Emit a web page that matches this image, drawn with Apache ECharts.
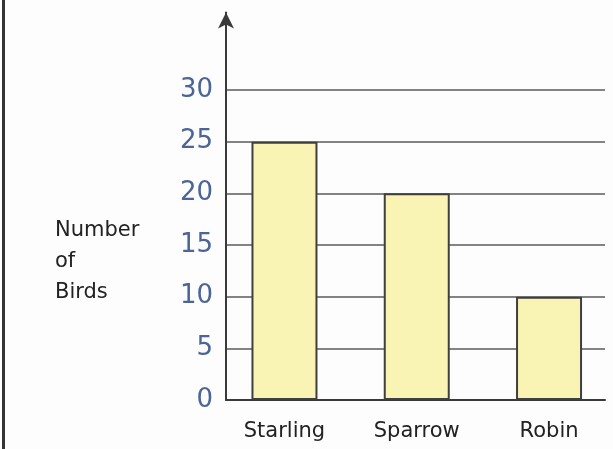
<!DOCTYPE html>
<html>
<head>
<meta charset="utf-8">
<script src="https://cdn.jsdelivr.net/npm/echarts@6/dist/echarts.min.js"></script>
<style>
html,body{margin:0;padding:0;background:#fdfdfd;}
#c{width:613px;height:449px;}
</style>
</head>
<body>
<div id="c"></div>
<script>
const categories = ['Starling', 'Sparrow', 'Robin'];
const birdCounts = [25, 20, 10];
const yTicks = [0, 5, 10, 15, 20, 25, 30];

const chart = echarts.init(document.getElementById('c'), null, {renderer: 'canvas'});
const font = 'DejaVu Sans';
const gridColors = [];
for (let v = 0; v <= 37.5; v += 5) gridColors.push(v <= 30 ? '#5a5a5a' : 'rgba(0,0,0,0)');
gridColors.push('rgba(0,0,0,0)');

chart.setOption({
  backgroundColor: '#fdfdfd',
  animation: false,
  title: {
    text: 'Number\nof\nBirds',
    left: 50, top: 210,
    textStyle: {fontFamily: font, fontSize: 21, fontWeight: 'normal', color: '#222', lineHeight: 31}
  },
  graphic: [{
    type: 'rect', left: 2, top: 0,
    shape: {width: 3, height: 449},
    style: {fill: '#333'}
  }],
  grid: {left: 226, right: 8, top: 12.5, bottom: 49},
  xAxis: {
    type: 'value',
    min: -0.442, max: 2.423,
    splitLine: {show: false},
    axisTick: {show: false},
    axisLine: {show: true, onZero: false, lineStyle: {color: '#3a3a3a', width: 2}},
    axisLabel: {
      customValues: categories.map((c, i) => i),
      formatter: v => categories[Math.round(v)],
      fontFamily: font, fontSize: 21, color: '#222', margin: 21
    }
  },
  yAxis: {
    type: 'value',
    min: 0, max: 37.5, interval: 5,
    axisLine: {show: true, onZero: false, symbol: ['none', 'arrow'], symbolSize: [12, 16],
      lineStyle: {color: '#3a3a3a', width: 2}},
    axisTick: {show: false},
    splitLine: {show: true, lineStyle: {color: gridColors, width: 1.5}},
    axisLabel: {
      formatter: v => (yTicks.indexOf(v) >= 0 ? String(v) : ''),
      fontFamily: font, fontSize: 26, color: '#4a6596', margin: 13
    }
  },
  series: [{
    type: 'bar',
    data: birdCounts.map((v, i) => [i, v]),
    barWidth: 66,
    itemStyle: {color: '#f9f3b4', borderColor: '#3f3f3f', borderWidth: 2}
  }]
});
</script>
</body>
</html>
